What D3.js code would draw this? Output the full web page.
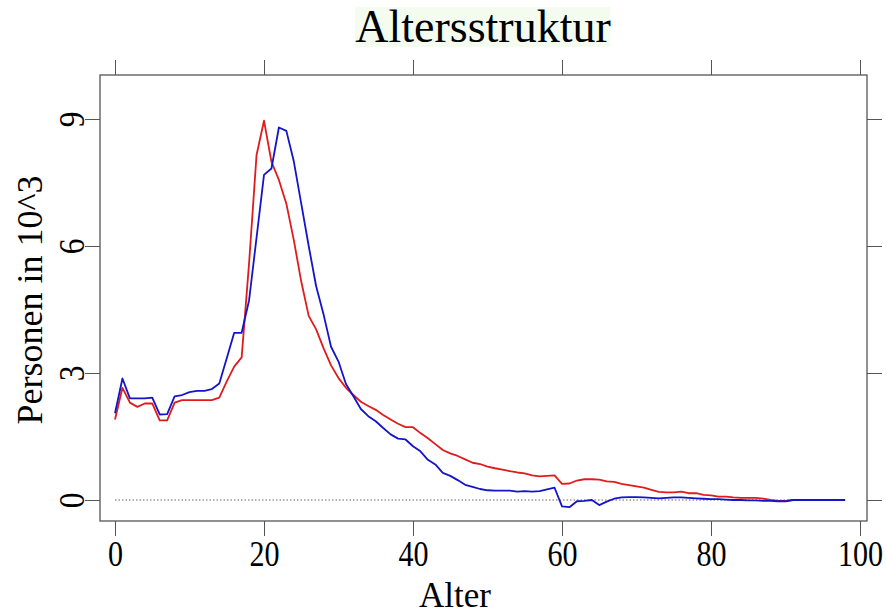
<!DOCTYPE html>
<html>
<head>
<meta charset="utf-8">
<script src="https://cdn.jsdelivr.net/npm/d3@7"></script>
<style>
  html, body { margin: 0; padding: 0; background: #fff; }
  svg { display: block; }
  text { font-family: "Liberation Serif", "Times New Roman", serif; fill: #000; }
</style>
</head>
<body>
<svg id="chart" width="886" height="614"></svg>
<script>
// ---- data ----
const title = "Altersstruktur";
const xLabel = "Alter";
const yLabel = "Personen in 10^3";
const ages = d3.range(0, 99);
const blueValues = [
  2.05, 2.87, 2.40, 2.40, 2.40, 2.42, 2.02, 2.03, 2.45, 2.48,
  2.55, 2.58, 2.58, 2.62, 2.75, 3.35, 3.95, 3.95, 4.72, 6.20,
  7.68, 7.83, 8.80, 8.72, 8.00, 7.00, 6.00, 5.05, 4.38, 3.62,
  3.27, 2.74, 2.45, 2.15, 1.98, 1.86, 1.70, 1.55, 1.45, 1.43,
  1.27, 1.15, 0.95, 0.84, 0.64, 0.57, 0.47, 0.36, 0.31, 0.26,
  0.23, 0.22, 0.22, 0.22, 0.20, 0.21, 0.20, 0.21, 0.25, 0.29,
  -0.15, -0.17, -0.03, -0.02, 0.00, -0.12, -0.04, 0.03, 0.06, 0.07,
  0.07, 0.06, 0.05, 0.04, 0.05, 0.06, 0.06, 0.05, 0.04, 0.03,
  0.02, 0.02, 0.01, 0.00, 0.00, -0.01, -0.01, -0.02, -0.02, -0.03,
  -0.03, 0.00, 0.00, 0.00, 0.00, 0.00, 0.00, 0.00, 0.00
];
const redValues = [
  1.90, 2.65, 2.30, 2.20, 2.28, 2.28, 1.88, 1.88, 2.30, 2.36,
  2.36, 2.36, 2.36, 2.36, 2.42, 2.80, 3.15, 3.37, 5.60, 8.15,
  8.96, 7.99, 7.56, 7.00, 6.14, 5.16, 4.35, 4.03, 3.58, 3.18,
  2.88, 2.65, 2.48, 2.32, 2.22, 2.13, 2.01, 1.90, 1.80, 1.72,
  1.72, 1.58, 1.46, 1.32, 1.18, 1.10, 1.04, 0.96, 0.88, 0.85,
  0.79, 0.75, 0.72, 0.68, 0.65, 0.63, 0.58, 0.56, 0.57, 0.58,
  0.38, 0.39, 0.46, 0.49, 0.49, 0.48, 0.44, 0.43, 0.38, 0.35,
  0.32, 0.29, 0.24, 0.19, 0.18, 0.18, 0.20, 0.16, 0.16, 0.12,
  0.11, 0.08, 0.08, 0.06, 0.05, 0.05, 0.05, 0.03, 0.00, -0.02,
  -0.02, 0.00, 0.00, 0.00, 0.00, 0.00, 0.00, 0.00, 0.00
];
const xTicks = [0, 20, 40, 60, 80, 100];
const yTicks = [0, 3, 6, 9];

// ---- layout ----
const svg = d3.select("#chart");
const box = { left: 100, right: 867, top: 75, bottom: 521 };
const x = d3.scaleLinear().domain([0, 100]).range([115, 860]);
const y = d3.scaleLinear().domain([0, 9]).range([500, 119]);
const frameColor = "#555";
const tickLen = 15;
const fontSize = 35;

// title
const tb = { x: 355, y: 7, w: 255, h: 40 };
svg.append("rect").attr("x", tb.x).attr("y", tb.y).attr("width", tb.w).attr("height", tb.h)
  .attr("fill", "#f4fbef");
svg.append("text").attr("x", 483).attr("y", 42).attr("text-anchor", "middle")
  .attr("font-size", 46).text(title);

// axes
function styleAxis(g) {
  g.select(".domain").remove();
  g.selectAll(".tick line").attr("stroke", frameColor).attr("stroke-width", 1);
}
const gBottom = svg.append("g").attr("transform", `translate(0,${box.bottom})`)
  .call(d3.axisBottom(x).tickValues(xTicks).tickSize(tickLen).tickSizeOuter(0).tickPadding(4));
styleAxis(gBottom);
gBottom.selectAll(".tick text").attr("font-size", fontSize).attr("y", 33).attr("dy", "0.35em")
  .attr("transform", "scale(0.86,1)").attr("fill", "#000");

const gTop = svg.append("g").attr("transform", `translate(0,${box.top})`)
  .call(d3.axisTop(x).tickValues(xTicks).tickSize(tickLen).tickSizeOuter(0).tickFormat(""));
styleAxis(gTop);

const gLeft = svg.append("g").attr("transform", `translate(${box.left},0)`)
  .call(d3.axisLeft(y).tickValues(yTicks).tickSize(tickLen).tickSizeOuter(0));
styleAxis(gLeft);
gLeft.selectAll(".tick text").attr("font-size", fontSize).attr("x", null).attr("dy", "0.35em")
  .attr("text-anchor", "middle").attr("transform", "translate(-28,0) rotate(-90) scale(0.9,1)").attr("fill", "#000");

const gRight = svg.append("g").attr("transform", `translate(${box.right},0)`)
  .call(d3.axisRight(y).tickValues(yTicks).tickSize(tickLen).tickSizeOuter(0).tickFormat(""));
styleAxis(gRight);

// frame
svg.append("rect").attr("x", box.left).attr("y", box.top)
  .attr("width", box.right - box.left).attr("height", box.bottom - box.top)
  .attr("fill", "none").attr("stroke", frameColor).attr("stroke-width", 1.3);

// zero reference line
svg.append("line").attr("x1", x(ages[0])).attr("x2", x(ages[ages.length - 1]))
  .attr("y1", y(0)).attr("y2", y(0))
  .attr("stroke", "#666").attr("stroke-width", 1).attr("stroke-dasharray", "1.5,2");

// series
const line = d3.line().x((d, i) => x(ages[i])).y(d => y(d));
svg.append("path").datum(redValues).attr("d", line).attr("fill", "none")
  .attr("stroke", "#e01b1b").attr("stroke-width", 1.8).attr("stroke-linejoin", "round");
svg.append("path").datum(blueValues).attr("d", line).attr("fill", "none")
  .attr("stroke", "#1414c8").attr("stroke-width", 1.8).attr("stroke-linejoin", "round");

// axis titles
svg.append("text").attr("x", 455).attr("y", 607).attr("text-anchor", "middle")
  .attr("font-size", fontSize).text(xLabel);
svg.append("text").attr("transform", "translate(42,300) rotate(-90)").attr("text-anchor", "middle")
  .attr("font-size", 36).text(yLabel);
</script>
</body>
</html>
